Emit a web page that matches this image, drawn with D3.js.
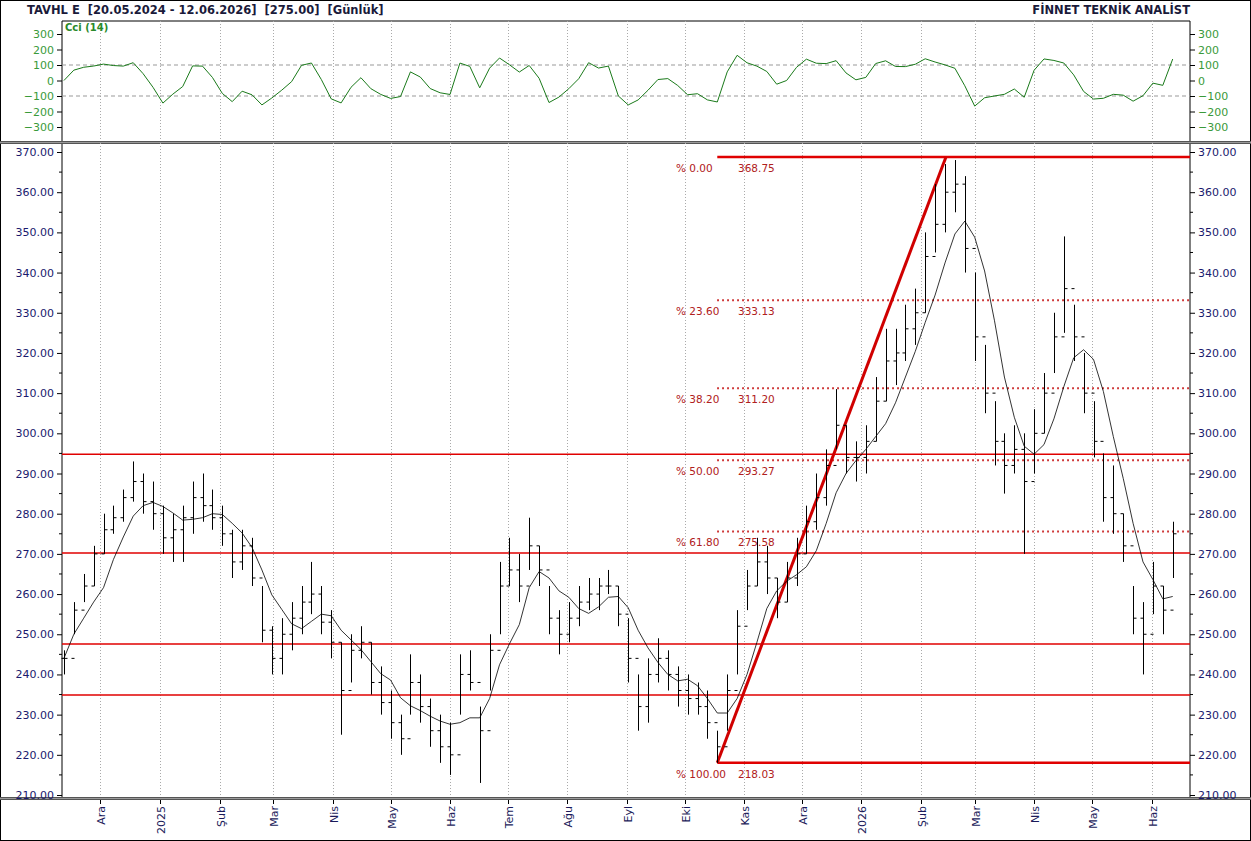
<!DOCTYPE html>
<html><head><meta charset="utf-8">
<script src="https://cdn.jsdelivr.net/npm/d3@7"></script>
<style>body{margin:0;background:#fff}svg{display:block;font-family:"DejaVu Sans",sans-serif}text{white-space:pre}</style>
</head><body><svg id="c" width="1251" height="841"></svg>
<script>
// sampled bars: [low, high, close]
const bars = [
  [240,246,244],[250,258,256],[258,265,262],[262,272,270],[270,280,276],[275,282,279],[278,286,284],[283,293,288],
  [280,290,283],[276,288,280],[270,282,274],[268,280,276],[268,282,279],[275,288,284],[278,290,282],[276,286,279],
  [272,282,275],[264,276,268],[266,276,272],[262,274,264],[248,262,251],[240,252,244],[240,254,250],[246,258,254],
  [250,262,258],[255,268,260],[250,262,253],[244,256,248],[225,248,236],[238,250,246],[244,252,248],[235,248,238],
  [230,242,233],[224,236,228],[220,230,224],[230,245,238],[228,240,232],[222,234,226],[218,230,222],[215,228,220],
  [230,245,240],[236,246,238],[213,232,226],[236,250,246],[250,268,262],[262,274,266],[258,270,262],[266,279,272],
  [262,272,266],[250,262,254],[245,256,250],[248,258,254],[252,262,258],[256,264,260],[256,264,262],[260,266,262],
  [252,262,255],[238,254,244],[226,240,232],[228,244,240],[238,249,244],[236,246,240],[232,242,236],[230,240,234],
  [230,238,232],[224,236,228],[218,226,222],[226,240,236],[240,256,252],[256,266,262],[262,274,268],[260,272,264],
  [254,264,258],[258,268,264],[262,274,270],[270,282,278],[276,290,284],[282,296,292],[296,311,302],[290,302,294],
  [288,298,294],[290,302,298],[298,314,308],[308,326,318],[312,326,320],[318,332,326],[322,336,330],[330,350,344],
  [345,362,352],[350,367,360],[355,368,362],[340,364,346],[318,340,324],[305,322,310],[292,308,298],[285,300,292],
  [290,302,296],[270,300,288],[290,306,300],[300,315,310],[315,330,324],[325,349,336],[318,332,324],[305,320,310],
  [294,308,298],[278,295,284],[275,292,280],[268,280,272],[250,262,254],[240,258,250],[255,268,262],[250,262,256],
  [264,278,275]
];
const firstDate = new Date(2024, 10, 12), lastDate = new Date(2026, 5, 12);
const fibPercents = ["0.00", "23.60", "38.20", "50.00", "61.80", "100.00"];
const fibValues = [368.75, 333.13, 311.20, 293.27, 275.58, 218.03];
const fibStart = new Date(2025, 9, 18), fibPeak = new Date(2026, 1, 14);
const supportLines = [294.8, 270.2, 247.6, 234.9];
const priceTicks = d3.range(210, 371, 10);
const cciTicks = [300, 200, 100, 0, -100, -200, -300];
const monthLabels = [
  ["2024-12-01","Ara"],["2025-01-01","2025"],["2025-02-01","Şub"],["2025-03-01","Mar"],["2025-04-01","Nis"],
  ["2025-05-01","May"],["2025-06-01","Haz"],["2025-07-01","Tem"],["2025-08-01","Ağu"],["2025-09-01","Eyl"],
  ["2025-10-01","Eki"],["2025-11-01","Kas"],["2025-12-01","Ara"],["2026-01-01","2026"],["2026-02-01","Şub"],
  ["2026-03-01","Mar"],["2026-04-01","Nis"],["2026-05-01","May"],["2026-06-01","Haz"]
];

const svg = d3.select("#c");
const L = 62, R = 1190, cT = 21, cB = 141, pT = 143, pB = 798;
const x = d3.scaleTime().domain([new Date(2024, 10, 11), new Date(2026, 5, 21)]).range([L, R]);
const y = d3.scaleLinear().domain([210, 370]).range([795, 152]);
const yc = d3.scaleLinear().domain([-300, 300]).range([127, 34]);
const step = (lastDate - firstDate) / (bars.length - 1);
const data = bars.map((b, i) => ({date: new Date(+firstDate + i * step), low: b[0], high: b[1], close: b[2]}));
data.forEach((d, i) => d.open = i ? data[i - 1].close : d.close);
// moving average and CCI from the sampled bars
data.forEach((d, i) => {
  const w = data.slice(Math.max(0, i - 4), i + 1);
  d.ma = d3.mean(w, e => e.close);
  d.tp = (d.low + d.high + d.close) / 3;
});
data.forEach((d, i) => {
  const w = data.slice(Math.max(0, i - 4), i + 1);
  const m = d3.mean(w, e => e.tp);
  const md = d3.mean(w, e => Math.abs(e.tp - m)) || 1;
  d.cci = Math.max(-320, Math.min(320, (d.tp - m) / (0.015 * md)));
});

svg.append("rect").attr("x", 0.5).attr("y", 0.5).attr("width", 1250).attr("height", 840).attr("fill", "none").attr("stroke", "#000");
svg.append("text").attr("x", 27).attr("y", 14).attr("font-size", 11.5).attr("font-weight", "bold").attr("fill", "#1a1a3a")
  .text("TAVHL E  [20.05.2024 - 12.06.2026]  [275.00]  [Günlük]");
svg.append("text").attr("x", 1190).attr("y", 14).attr("text-anchor", "end").attr("font-size", 11.5).attr("font-weight", "bold").attr("fill", "#1a1a3a")
  .text("FİNNET TEKNİK ANALİST");

// panel frames
[[cT, cB], [pT, pB]].forEach(([t, b]) => {
  svg.append("line").attr("x1", L).attr("x2", L).attr("y1", t).attr("y2", b).attr("stroke", "#000");
  svg.append("line").attr("x1", R).attr("x2", R).attr("y1", t).attr("y2", b).attr("stroke", "#000");
});
svg.append("line").attr("x1", L).attr("x2", R).attr("y1", cT).attr("y2", cT).attr("stroke", "#000");
[[141.5, "#555"], [142.5, "#999"], [143.5, "#555"], [797.5, "#555"], [798.5, "#999"], [799.5, "#555"]]
  .forEach(([v, c]) => svg.append("line").attr("x1", 0).attr("x2", 1251).attr("y1", v).attr("y2", v).attr("stroke", c));

// month grid + labels
monthLabels.forEach(([s, t]) => {
  const xx = Math.round(x(new Date(s))) + 0.5;
  [[cT, cB], [pT, 797]].forEach(([a, b]) => svg.append("line").attr("x1", xx).attr("x2", xx).attr("y1", a).attr("y2", b)
    .attr("stroke", "#aaa").attr("stroke-dasharray", "1,2"));
  svg.append("line").attr("x1", xx).attr("x2", xx).attr("y1", 800).attr("y2", 804).attr("stroke", "#000");
  svg.append("text").attr("transform", `translate(${xx + 4},806) rotate(-90)`).attr("text-anchor", "end")
    .attr("font-size", 11).attr("fill", "#1a1a5a").text(t);
});

// price axes
const axL = d3.axisLeft(y).tickValues(priceTicks).tickFormat(d3.format(".2f")).tickSize(5);
const axR = d3.axisRight(y).tickValues(priceTicks).tickFormat(d3.format(".2f")).tickSize(5);
[[axL, L], [axR, R]].forEach(([a, p]) => {
  const g = svg.append("g").attr("transform", `translate(${p},0)`).call(a);
  g.select(".domain").remove();
  g.selectAll("text").attr("fill", "#1a1a6e").attr("font-size", 11).attr("font-family", "DejaVu Sans, sans-serif");
  g.selectAll(".minor").data(priceTicks.slice(0, -1)).enter().append("line")
    .attr("x1", 0).attr("x2", p === L ? -3 : 3).attr("y1", d => y(d + 5)).attr("y2", d => y(d + 5)).attr("stroke", "#000");
});
const cAxL = d3.axisLeft(yc).tickValues(cciTicks).tickSize(5);
const cAxR = d3.axisRight(yc).tickValues(cciTicks).tickSize(5);
[[cAxL, L], [cAxR, R]].forEach(([a, p]) => {
  const g = svg.append("g").attr("transform", `translate(${p},0)`).call(a);
  g.select(".domain").remove();
  g.selectAll("text").attr("fill", "#3a9a3a").attr("font-size", 11).attr("font-family", "DejaVu Sans, sans-serif");
});
[100, -100].forEach(v => svg.append("line").attr("x1", L).attr("x2", R).attr("y1", yc(v)).attr("y2", yc(v))
  .attr("stroke", "#999").attr("stroke-dasharray", "4,3"));
svg.append("text").attr("x", 65).attr("y", 31).attr("font-size", 10).attr("font-weight", "bold").attr("fill", "#2a8a2a").text("Cci (14)");
svg.append("path").datum(data).attr("fill", "none").attr("stroke", "#1a7a1a").attr("stroke-width", 1)
  .attr("d", d3.line().x(d => x(d.date)).y(d => yc(d.cci)));

// support/resistance lines
supportLines.forEach(v => svg.append("line").attr("x1", L).attr("x2", R).attr("y1", y(v)).attr("y2", y(v))
  .attr("stroke", "#e00000").attr("stroke-width", 1.5));

// fibonacci
const fx0 = x(fibStart);
fibValues.forEach((v, i) => {
  const solid = i === 0 || i === fibValues.length - 1;
  svg.append("line").attr("x1", fx0).attr("x2", R).attr("y1", y(v)).attr("y2", y(v))
    .attr("stroke", solid ? "#e00000" : "#c00000").attr("stroke-width", solid ? 2.5 : 2)
    .attr("stroke-dasharray", solid ? null : "1.5,3.5");
  svg.append("text").attr("x", 676).attr("y", y(v) + 15).attr("font-size", 10.5).attr("fill", "#b02020").text(`% ${fibPercents[i]}`);
  svg.append("text").attr("x", 738).attr("y", y(v) + 15).attr("font-size", 10.5).attr("fill", "#b02020").text(v.toFixed(2));
});
svg.append("line").attr("x1", fx0).attr("y1", y(fibValues[5])).attr("x2", x(fibPeak)).attr("y2", y(fibValues[0]))
  .attr("stroke", "#d00000").attr("stroke-width", 3);

// bars
const g = svg.append("g").attr("stroke", "#000").attr("stroke-width", 1);
data.forEach(d => {
  const xx = Math.round(x(d.date)) + 0.5;
  g.append("line").attr("x1", xx).attr("x2", xx).attr("y1", y(d.high)).attr("y2", y(d.low));
  g.append("line").attr("x1", xx - 3).attr("x2", xx).attr("y1", y(d.open)).attr("y2", y(d.open));
  g.append("line").attr("x1", xx).attr("x2", xx + 3).attr("y1", y(d.close)).attr("y2", y(d.close));
});
svg.append("path").datum(data).attr("fill", "none").attr("stroke", "#000").attr("stroke-width", 0.8)
  .attr("d", d3.line().x(d => x(d.date)).y(d => y(d.ma)));
</script></body></html>
